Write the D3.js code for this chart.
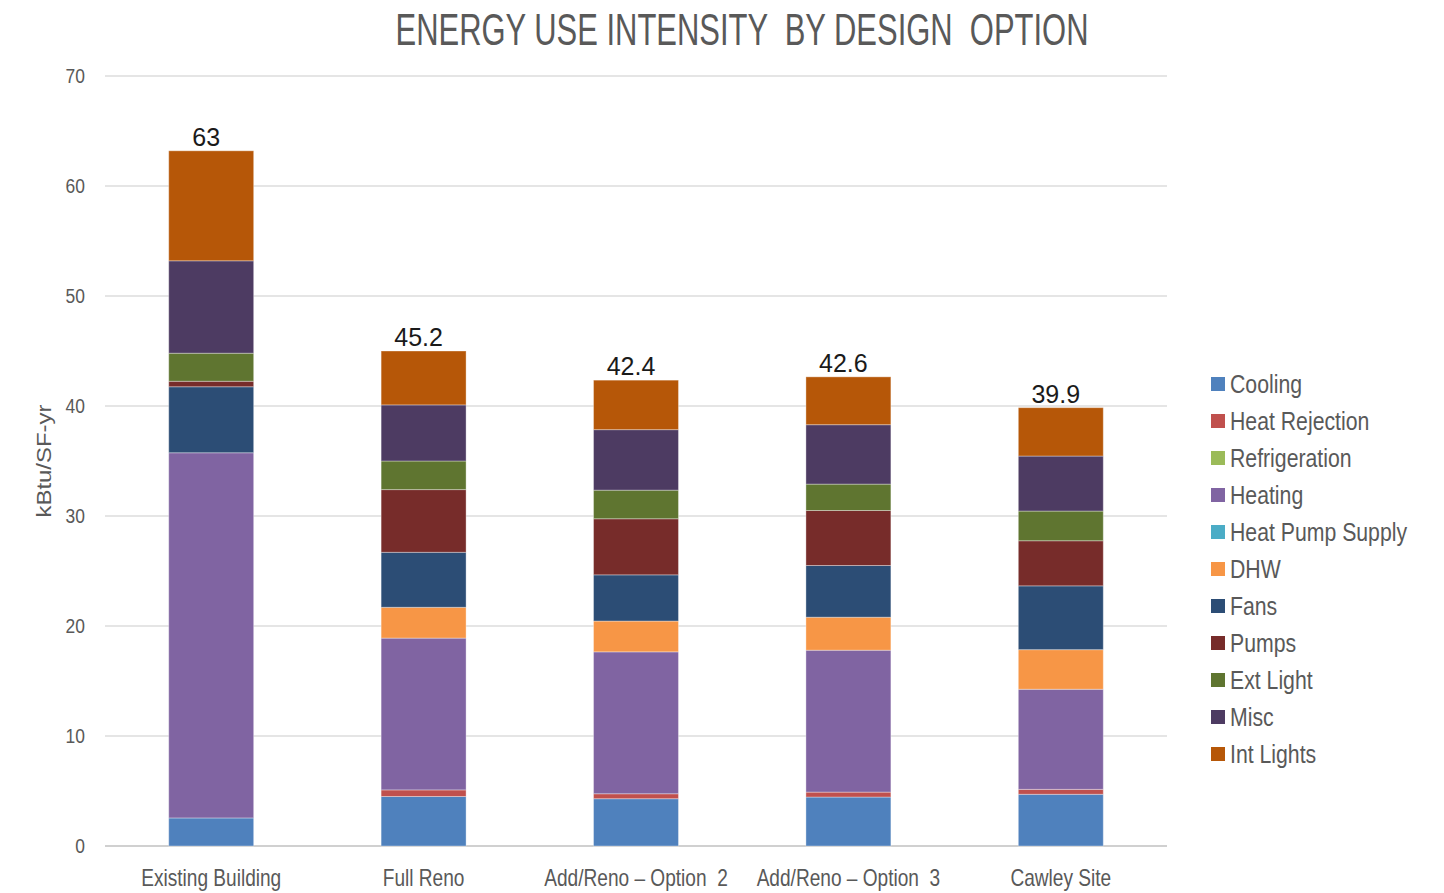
<!DOCTYPE html>
<html>
<head>
<meta charset="utf-8">
<script src="https://cdn.jsdelivr.net/npm/d3@7"></script>
<style>
  body { margin: 0; background: #fff; }
  svg { display: block; }
  text { white-space: pre; }
</style>
</head>
<body>
<svg id="chart" width="1444" height="893"></svg>
<script>
// Chart data
const categories = ['Existing Building', 'Full Reno', 'Add/Reno \u2013 Option  2', 'Add/Reno \u2013 Option  3', 'Cawley Site']
const seriesNames = ['Cooling', 'Heat Rejection', 'Refrigeration', 'Heating', 'Heat Pump Supply', 'DHW', 'Fans', 'Pumps', 'Ext Light', 'Misc', 'Int Lights']
const seriesColors = ['#4f81bd', '#c0504d', '#9bbb59', '#8064a2', '#4bacc6', '#f79646', '#2c4d75', '#772c2a', '#5f7530', '#4d3b62', '#b65708']

const cooling       = [2.55, 4.5, 4.3, 4.45, 4.7]
const heatRejection = [0, 0.6, 0.45, 0.45, 0.45]
const refrigeration = [0, 0, 0, 0, 0]
const heating       = [33.2, 13.8, 12.9, 12.9, 9.1]
const heatPump      = [0, 0, 0, 0, 0]
const dhw           = [0, 2.8, 2.8, 3.0, 3.6]
const fans          = [6.0, 5.0, 4.2, 4.7, 5.8]
const pumps         = [0.5, 5.7, 5.1, 5.0, 4.1]
const extLight      = [2.55, 2.6, 2.6, 2.4, 2.7]
const misc          = [8.4, 5.1, 5.5, 5.4, 5.0]
const intLights     = [10.0, 4.9, 4.5, 4.35, 4.4]

const totalLabels = ['63', '45.2', '42.4', '42.6', '39.9']
const yTicks = [0, 10, 20, 30, 40, 50, 60, 70]

const seriesValues = [cooling, heatRejection, refrigeration, heating, heatPump, dhw, fans, pumps, extLight, misc, intLights]

// build table for d3.stack
let table = categories.map(function(c, i){
    let row = {cat: c}
    seriesNames.forEach(function(s, j){ row[s] = seriesValues[j][i] })
    return row
})

const font = 'Liberation Sans, Arial, sans-serif'
const narrowScale = 0.83 //fake "Arial Narrow" by squeezing horizontally
const grey = '#595959'

let svg = d3.select('#chart')

let margin = {left: 105, right: 1167, top: 76, bottom: 846}

let x = d3.scaleBand()
    .domain(categories)
    .range([margin.left, margin.right])
    .paddingInner(0.6)
    .paddingOuter(0.3)

let y = d3.scaleLinear()
    .domain([0, 70])
    .range([margin.bottom, margin.top])

// gridlines
svg.append('g')
    .selectAll('line')
    .data(yTicks)
    .enter()
    .append('line')
    .attr('x1', margin.left)
    .attr('x2', margin.right)
    .attr('y1', d => y(d))
    .attr('y2', d => y(d))
    .attr('stroke', d => d == 0 ? '#d0d0d0' : '#dcdcdc')
    .attr('stroke-width', d => d == 0 ? 2 : 1.5)

// y tick labels
svg.append('g')
    .selectAll('text')
    .data(yTicks)
    .enter()
    .append('text')
    .attr('transform', d => 'translate(85,' + y(d) + ') scale(' + narrowScale + ',1)')
    .attr('text-anchor', 'end')
    .attr('dominant-baseline', 'central')
    .attr('font-family', font)
    .attr('font-size', 21)
    .attr('fill', grey)
    .text(d => d)

// y axis title
svg.append('text')
    .attr('transform', 'translate(51,461) rotate(-90)')
    .attr('text-anchor', 'middle')
    .attr('font-family', font)
    .attr('font-size', 21)
    .attr('fill', grey)
    .attr('textLength', 113)
    .attr('lengthAdjust', 'spacingAndGlyphs')
    .text('kBtu/SF-yr')

// stacked bars
let stack = d3.stack().keys(seriesNames)
let layers = stack(table)

svg.append('g')
    .selectAll('g')
    .data(layers)
    .enter()
    .append('g')
    .attr('fill', (d, i) => seriesColors[i])
    .selectAll('rect')
    .data(d => d)
    .enter()
    .append('rect')
    .attr('x', d => x(d.data.cat))
    .attr('width', x.bandwidth())
    .attr('y', d => y(d[1]))
    .attr('height', d => Math.max(0, y(d[0]) - y(d[1])))
    .attr('stroke', '#ffffff')
    .attr('stroke-opacity', d => (d[1] - d[0]) > 0 ? 0.35 : 0)
    .attr('stroke-width', 1)

// totals on top
svg.append('g')
    .selectAll('text')
    .data(table)
    .enter()
    .append('text')
    .attr('x', d => x(d.cat) + x.bandwidth() / 2 - 5)
    .attr('y', d => y(d3.sum(seriesNames, s => d[s])) - 5)
    .attr('text-anchor', 'middle')
    .attr('font-family', font)
    .attr('font-size', 25)
    .attr('fill', '#1a1a1a')
    .text((d, i) => totalLabels[i])

// category labels
svg.append('g')
    .selectAll('text')
    .data(categories)
    .enter()
    .append('text')
    .attr('transform', d => 'translate(' + (x(d) + x.bandwidth() / 2) + ',886) scale(' + narrowScale + ',1)')
    .attr('text-anchor', 'middle')
    .attr('font-family', font)
    .attr('font-size', 23)
    .attr('fill', grey)
    .text(d => d)

// title
svg.append('text')
    .attr('x', 742)
    .attr('y', 45)
    .attr('text-anchor', 'middle')
    .attr('font-family', font)
    .attr('font-size', 44)
    .attr('fill', grey)
    .attr('textLength', 693)
    .attr('lengthAdjust', 'spacingAndGlyphs')
    .text('ENERGY USE INTENSITY  BY DESIGN  OPTION')

// legend
let legend = svg.append('g')
    .selectAll('g')
    .data(seriesNames)
    .enter()
    .append('g')
    .attr('transform', (d, i) => 'translate(1211,' + (384 + i * 37) + ')')

legend.append('rect')
    .attr('x', 0)
    .attr('y', -7)
    .attr('width', 14)
    .attr('height', 14)
    .attr('fill', (d, i) => seriesColors[i])

legend.append('text')
    .attr('transform', 'translate(19,0) scale(0.85,1)')
    .attr('dominant-baseline', 'central')
    .attr('font-family', font)
    .attr('font-size', 25)
    .attr('fill', grey)
    .text(d => d)
</script>
</body>
</html>
